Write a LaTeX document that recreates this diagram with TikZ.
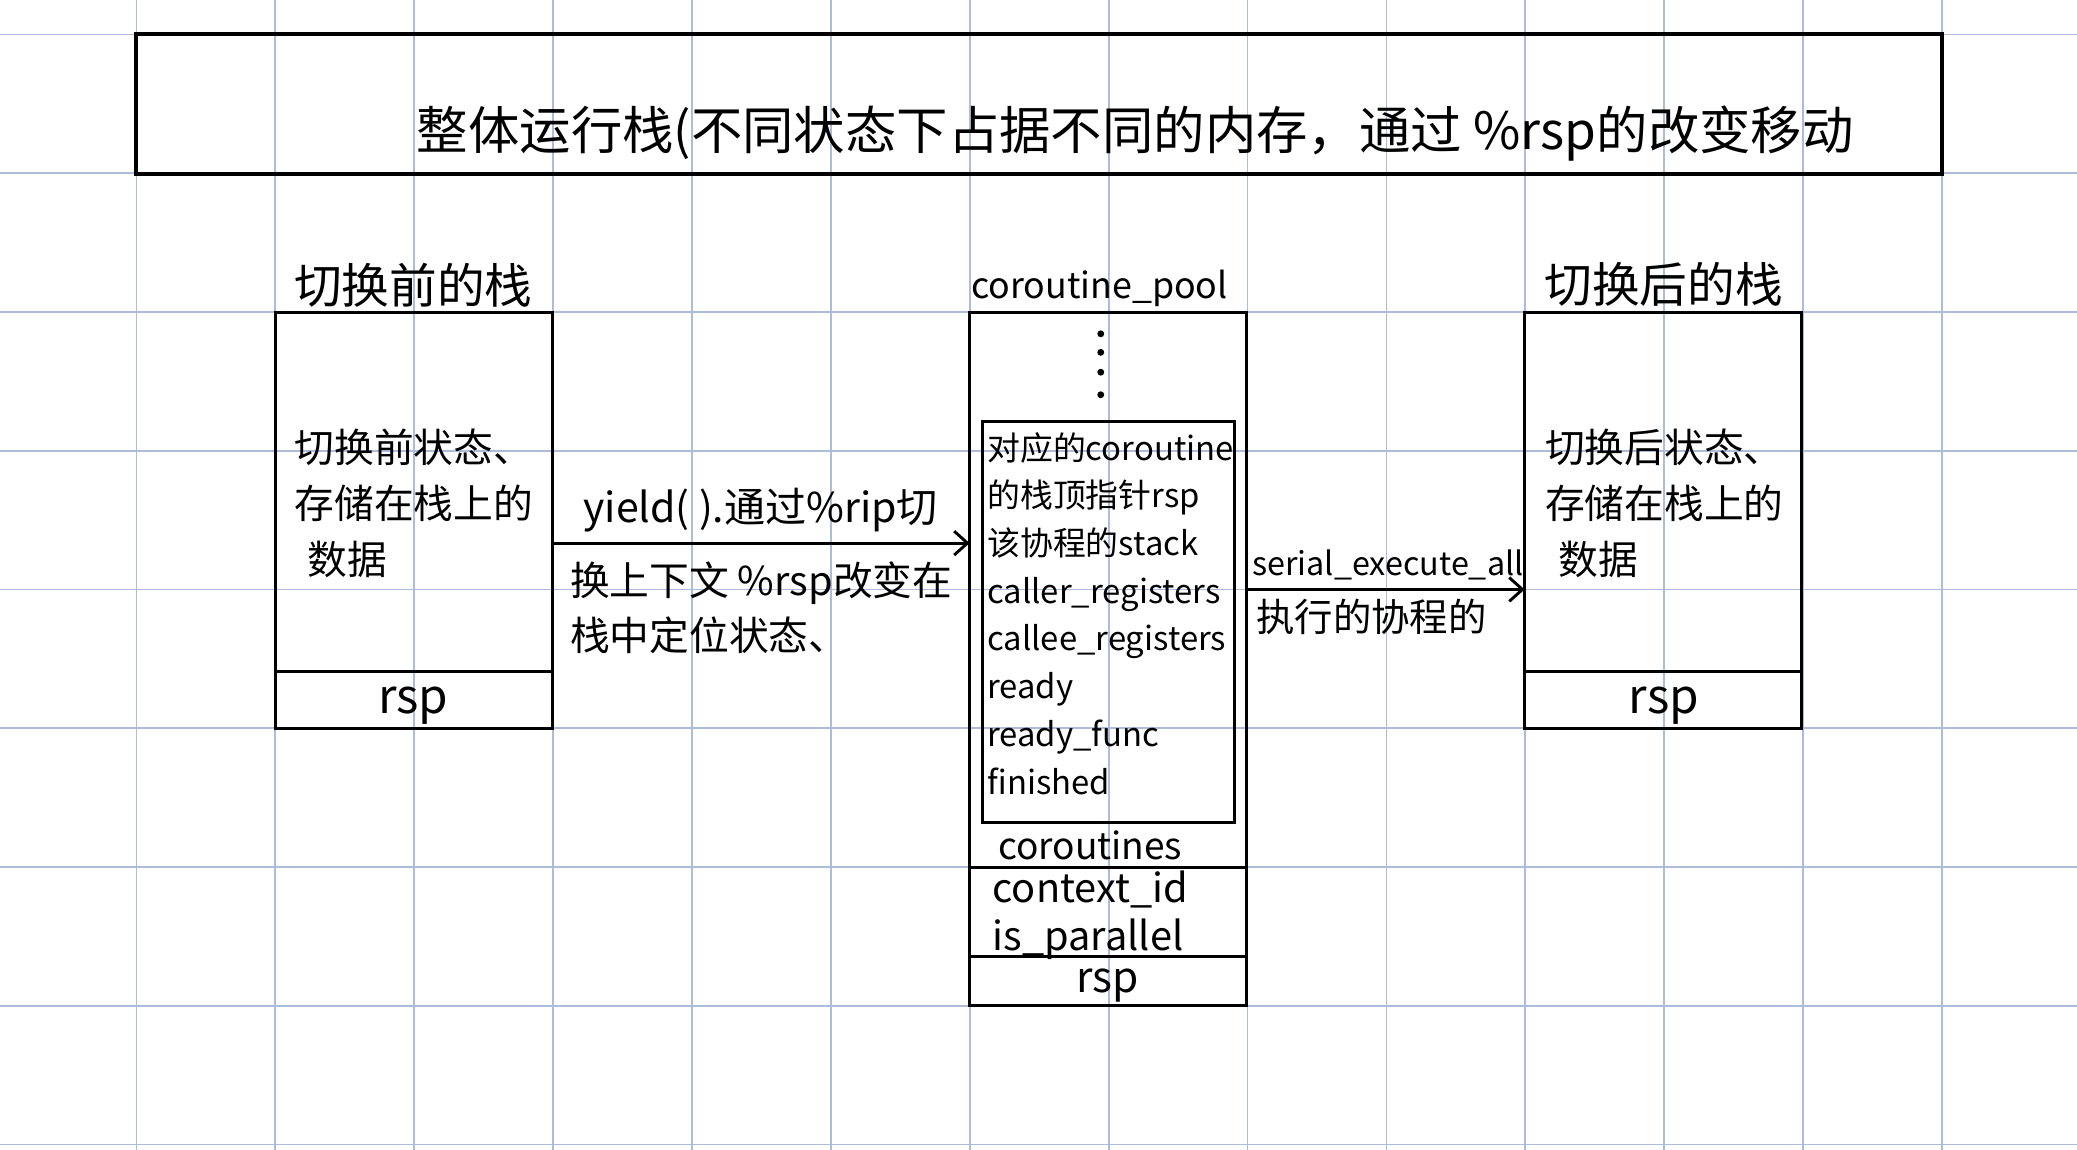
\documentclass[tikz,border=0pt]{standalone}
\usepackage{fontspec}
\setmainfont{Noto Sans CJK SC}
\usetikzlibrary{arrows.meta}
\definecolor{gridblue}{RGB}{172,188,218}
\begin{document}
\begin{tikzpicture}[x=0.5pt,y=-0.5pt,
  gridline/.style={draw=gridblue,line width=0.7pt},
  box/.style={draw,line width=1.1pt,inner sep=0pt,outer sep=0pt,anchor=north west},
  sepline/.style={line width=1.1pt},
  arr/.style={line width=1.1pt,-{Straight Barb[length=5pt,width=9pt]}},
  txt/.style={inner sep=0pt,align=left},
]
\useasboundingbox (0,0) rectangle (1568,868);
% grid
\foreach \i in {0,...,13} \draw[gridline] ({103+104.85*\i},0) -- ({103+104.85*\i},868);
\foreach \j in {0,...,8} \draw[gridline] (0,{26+104.75*\j}) -- (1568,{26+104.75*\j});

% title box
\node[box,line width=1.5pt,minimum width=681.5pt,minimum height=52.5pt] (T) at (103,26) {};
\node[txt,font=\fontsize{19.4}{19.4}\selectfont] (title) at (857,101) {整体运行栈(不同状态下占据不同的内存，通过 \%rsp的改变移动};

% left stack
\node[box,minimum width=104.5pt,minimum height=157pt] (L) at (208,236) {};
\draw[sepline] (208,507) -- (417,507);
\node[txt,font=\fontsize{18}{18}\selectfont] (Lt) at (312,215) {切换前的栈};
\node[txt,font=\fontsize{15}{21}\selectfont,anchor=west] (Lb) at (222,380) {切换前状态、\\存储在栈上的\\\hspace{5pt}数据};
\node[txt,font=\fontsize{18}{18}\selectfont] (Lr) at (312,533) {rsp};

% middle pool
\node[box,minimum width=104.5pt,minimum height=261.5pt] (M) at (732,236) {};
\draw[sepline] (732,655) -- (941,655);
\draw[sepline] (732,722) -- (941,722);
\node[txt,font=\fontsize{13.5}{13.5}\selectfont] (Mt) at (830,218) {coroutine\_pool};
\foreach \yy in {252,266,281,298} \fill (831,\yy) circle (1.3pt);
\node[box,minimum width=95pt,minimum height=151.5pt] (I) at (742,318) {};
\node[txt,anchor=north west,font=\fontsize{12.4}{18}\selectfont] (Ib) at (745,326) {对应的coroutine\\的栈顶指针rsp\\该协程的stack\\caller\_registers\\callee\_registers\\ready\\ready\_func\\finished};
\node[txt,font=\fontsize{14}{14}\selectfont] (Mc) at (823,638) {coroutines};
\node[txt,anchor=west,font=\fontsize{15}{18}\selectfont] (Mf) at (749,691) {context\_id\\is\_parallel};
\node[txt,font=\fontsize{16}{16}\selectfont] (Mr) at (836,744) {rsp};

% right stack
\node[box,minimum width=104.5pt,minimum height=157pt] (R) at (1151,236) {};
\draw[sepline] (1151,507) -- (1361,507);
\node[txt,font=\fontsize{18}{18}\selectfont] (Rt) at (1256,215) {切换后的栈};
\node[txt,font=\fontsize{15}{21}\selectfont,anchor=west] (Rb) at (1166,380) {切换后状态、\\存储在栈上的\\\hspace{5pt}数据};
\node[txt,font=\fontsize{18}{18}\selectfont] (Rr) at (1256,533) {rsp};

% arrows
\coordinate (y1) at (0,410);
\coordinate (y2) at (0,445);
\draw[arr] (L.east |- y1) -- (M.west |- y1);
\draw[arr] (M.east |- y2) -- (R.west |- y2);
\node[txt,anchor=south west,font=\fontsize{15.5}{15.5}\selectfont] (A1a) at (440,402) {yield( ).通过\%rip切};
\node[txt,anchor=north west,font=\fontsize{15}{20.5}\selectfont] (A1b) at (430,424) {换上下文 \%rsp改变在\\栈中定位状态、};
\node[txt,anchor=south west,font=\fontsize{12.2}{12.2}\selectfont] (A2a) at (945,438) {serial\_execute\_all};
\node[txt,anchor=north west,font=\fontsize{14.5}{14.5}\selectfont] (A2b) at (948,452) {执行的协程的};
\end{tikzpicture}
\end{document}
